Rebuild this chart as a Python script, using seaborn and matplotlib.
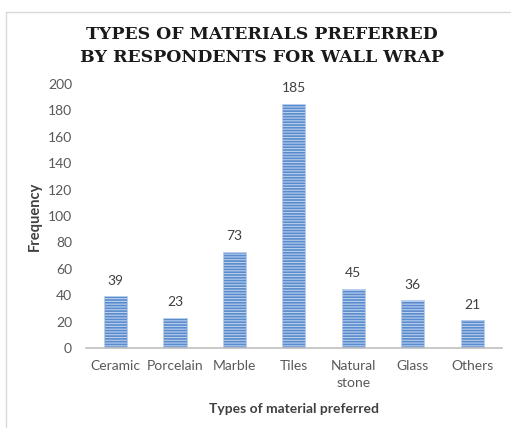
import matplotlib
matplotlib.use("Agg")
import matplotlib.pyplot as plt
import seaborn as sns
import pandas as pd

materials = ["Ceramic", "Porcelain", "Marble", "Tiles", "Natural\nstone", "Glass", "Others"]
frequency = [39, 23, 73, 185, 45, 36, 21]
y_ticks = [0, 20, 40, 60, 80, 100, 120, 140, 160, 180, 200]

df = pd.DataFrame({"material": materials, "frequency": frequency})

sns.set_theme(style="white")
plt.rcParams["font.family"] = ["Lato", "DejaVu Sans"]
plt.rcParams["hatch.color"] = "#b9cfee"
plt.rcParams["hatch.linewidth"] = 0.8

fig = plt.figure(figsize=(5.11, 4.28), dpi=100)
ax = fig.add_axes([0.168, 0.187, 0.814, 0.617])

sns.barplot(data=df, x="material", y="frequency", color="#5a8bcc",
            width=0.39, saturation=1, ax=ax)
for bar in ax.patches:
    bar.set_hatch("------")
    bar.set_edgecolor("#b9cfee")
    bar.set_linewidth(0.6)

for i, v in enumerate(frequency):
    ax.text(i, v + 7, str(v), ha="center", va="bottom", fontsize=10, color="#404040")

ax.set_ylim(0, 200)
ax.set_xlim(-0.5, len(materials) - 0.5)
ax.set_yticks(y_ticks)
ax.tick_params(axis="both", labelsize=10, labelcolor="#595959", length=0, pad=9)
ax.tick_params(axis="y", pad=10)
for lab in ax.get_xticklabels():
    lab.set_linespacing(1.45)
sns.despine(ax=ax, left=True, top=True, right=True)
ax.spines["bottom"].set_color("#bfbfbf")
ax.spines["bottom"].set_linewidth(1.2)

ax.set_xlabel("Types of material preferred", fontsize=10, fontweight="bold",
              color="#404040", labelpad=10)
ax.set_ylabel("Frequency", fontsize=10.5, fontweight="bold", color="#404040", labelpad=4)

fig.text(0.513, 0.893, "TYPES OF MATERIALS PREFERRED\nBY RESPONDENTS FOR WALL WRAP",
         ha="center", va="center", fontsize=12.5, fontweight="bold",
         family="DejaVu Serif", color="#1a1a1a", linespacing=1.45)

# thin frame round the chart area
fig.add_artist(plt.Line2D([6 / 511, 6 / 511], [0, 1 - 12 / 428], color="#d9d9d9", lw=1))
fig.add_artist(plt.Line2D([6 / 511, 1], [1 - 12 / 428, 1 - 12 / 428], color="#d9d9d9", lw=1))

fig.savefig("out.png", dpi=100)
